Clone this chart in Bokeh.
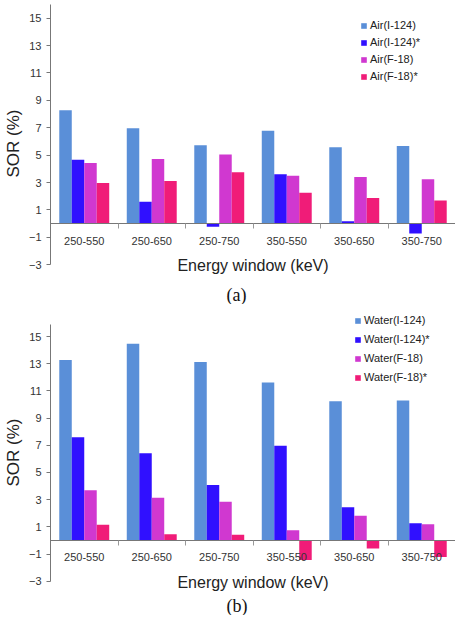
import numpy as np
from bokeh.plotting import figure
from bokeh.models import (ColumnDataSource, FixedTicker, LinearAxis, Range1d,
                          Legend, LegendItem, Title)
from bokeh.layouts import column
from bokeh.embed import file_html
from bokeh.resources import INLINE

categories = ["250-550", "250-650", "250-750", "350-550", "350-650", "350-750"]
y_ticks = [-3, -1, 1, 3, 5, 7, 9, 11, 13, 15]

air_labels = ["Air(I-124)", "Air(I-124)*", "Air(F-18)", "Air(F-18)*"]
air_i124 = [8.27, 6.96, 5.72, 6.79, 5.57, 5.67]
air_i124_s = [4.67, 1.60, -0.22, 3.60, 0.17, -0.73]
air_f18 = [4.43, 4.72, 5.04, 3.50, 3.41, 3.24]
air_f18_s = [2.97, 3.11, 3.75, 2.26, 1.87, 1.68]

water_labels = ["Water(I-124)", "Water(I-124)*", "Water(F-18)", "Water(F-18)*"]
water_i124 = [13.28, 14.47, 13.13, 11.61, 10.24, 10.29]
water_i124_s = [7.60, 6.41, 4.08, 6.97, 2.44, 1.27]
water_f18 = [3.69, 3.15, 2.84, 0.76, 1.81, 1.20]
water_f18_s = [1.15, 0.46, 0.42, -1.44, -0.59, -1.22]

colors = ["#5A8FD8", "#3010FF", "#D038D0", "#F01C78"]

FONT = "Liberation Sans"


def make_panel(series, labels, ymin, ymax, axis_top, frame_h, top, tag,
               legend_loc, legend_spacing, title_offset):
    p = figure(width=455, frame_height=frame_h, output_backend="svg",
               toolbar_location=None, x_range=Range1d(0, 6),
               y_range=Range1d(ymin, ymax), min_border_top=top,
               min_border_right=0, min_border_left=0, min_border_bottom=0,
               x_axis_type=None)
    p.outline_line_color = None
    p.xgrid.visible = False
    p.ygrid.visible = False
    p.background_fill_color = "white"

    n = len(series)
    w = 0.185
    xc = np.arange(len(categories)) + 0.5
    items = []
    for k, (vals, lab, col) in enumerate(zip(series, labels, colors)):
        src = ColumnDataSource(dict(x=xc + (k - (n - 1) / 2) * w, top=vals))
        r = p.vbar(x="x", top="top", bottom=0, width=w, source=src,
                   fill_color=col, line_color=None)
        items.append(LegendItem(label=lab, renderers=[r]))

    # y axis
    ya = p.yaxis[0]
    ya.ticker = FixedTicker(ticks=y_ticks)
    ya.bounds = (y_ticks[0], axis_top)
    ya.minor_tick_line_color = None
    ya.major_tick_out = 4
    ya.major_tick_in = 0
    ya.axis_line_color = "#777777"
    ya.major_tick_line_color = "#777777"
    ya.major_label_text_font = FONT
    ya.major_label_text_font_size = "11px"
    ya.major_label_text_color = "#333333"
    ya.major_label_standoff = 5
    ya.axis_label = "SOR (%)"
    ya.axis_label_text_font = FONT
    ya.axis_label_text_font_size = "17px"
    ya.axis_label_text_font_style = "normal"
    ya.axis_label_text_color = "#222222"
    ya.axis_label_standoff = 3

    # category axis drawn at zero; minor ticks mark the category boundaries
    xl = LinearAxis(ticker=FixedTicker(ticks=list(xc),
                                       minor_ticks=list(np.arange(1, len(categories)))),
                    fixed_location=0,
                    major_label_overrides={float(x): c for x, c in zip(xc, categories)})
    xl.axis_line_color = "#777777"
    xl.major_tick_line_color = None
    xl.minor_tick_line_color = "#999999"
    xl.minor_tick_out = 5
    xl.minor_tick_in = 0
    xl.major_tick_out = 0
    xl.major_tick_in = 0
    xl.major_label_standoff = 8
    xl.major_label_text_font = FONT
    xl.major_label_text_font_size = "11px"
    xl.major_label_text_color = "#333333"
    xl.axis_label = "Energy window (keV)"
    xl.axis_label_text_font = FONT
    xl.axis_label_text_font_size = "16px"
    xl.axis_label_text_font_style = "normal"
    xl.axis_label_text_color = "#222222"
    xl.axis_label_standoff = 9
    p.add_layout(xl, "below")

    t = Title(text=tag, align="left", offset=title_offset,
              text_font="Liberation Serif", text_font_size="18px",
              text_font_style="normal", text_color="#111111", standoff=0)
    p.add_layout(t, "below")

    leg = Legend(items=items, location=legend_loc, glyph_width=7, glyph_height=7,
                 label_height=12, spacing=legend_spacing, padding=4,
                 label_standoff=3, label_text_font=FONT,
                 label_text_font_size="11px", label_text_color="#222222",
                 background_fill_alpha=0, border_line_color=None)
    p.add_layout(leg, "center")
    return p


pa = make_panel([air_i124, air_i124_s, air_f18, air_f18_s], air_labels,
                -4.3, 16.0, 16.0, 278, 4, "(a)", (310, 200), 5, 176)
pb = make_panel([water_i124, water_i124_s, water_f18, water_f18_s], water_labels,
                -3.9, 16.84, 15.9, 282, 7, "(b)", (304, 210), 7, 176)

layout = column(pa, pb, spacing=0)
open("out.html", "w").write(file_html(layout, INLINE))
